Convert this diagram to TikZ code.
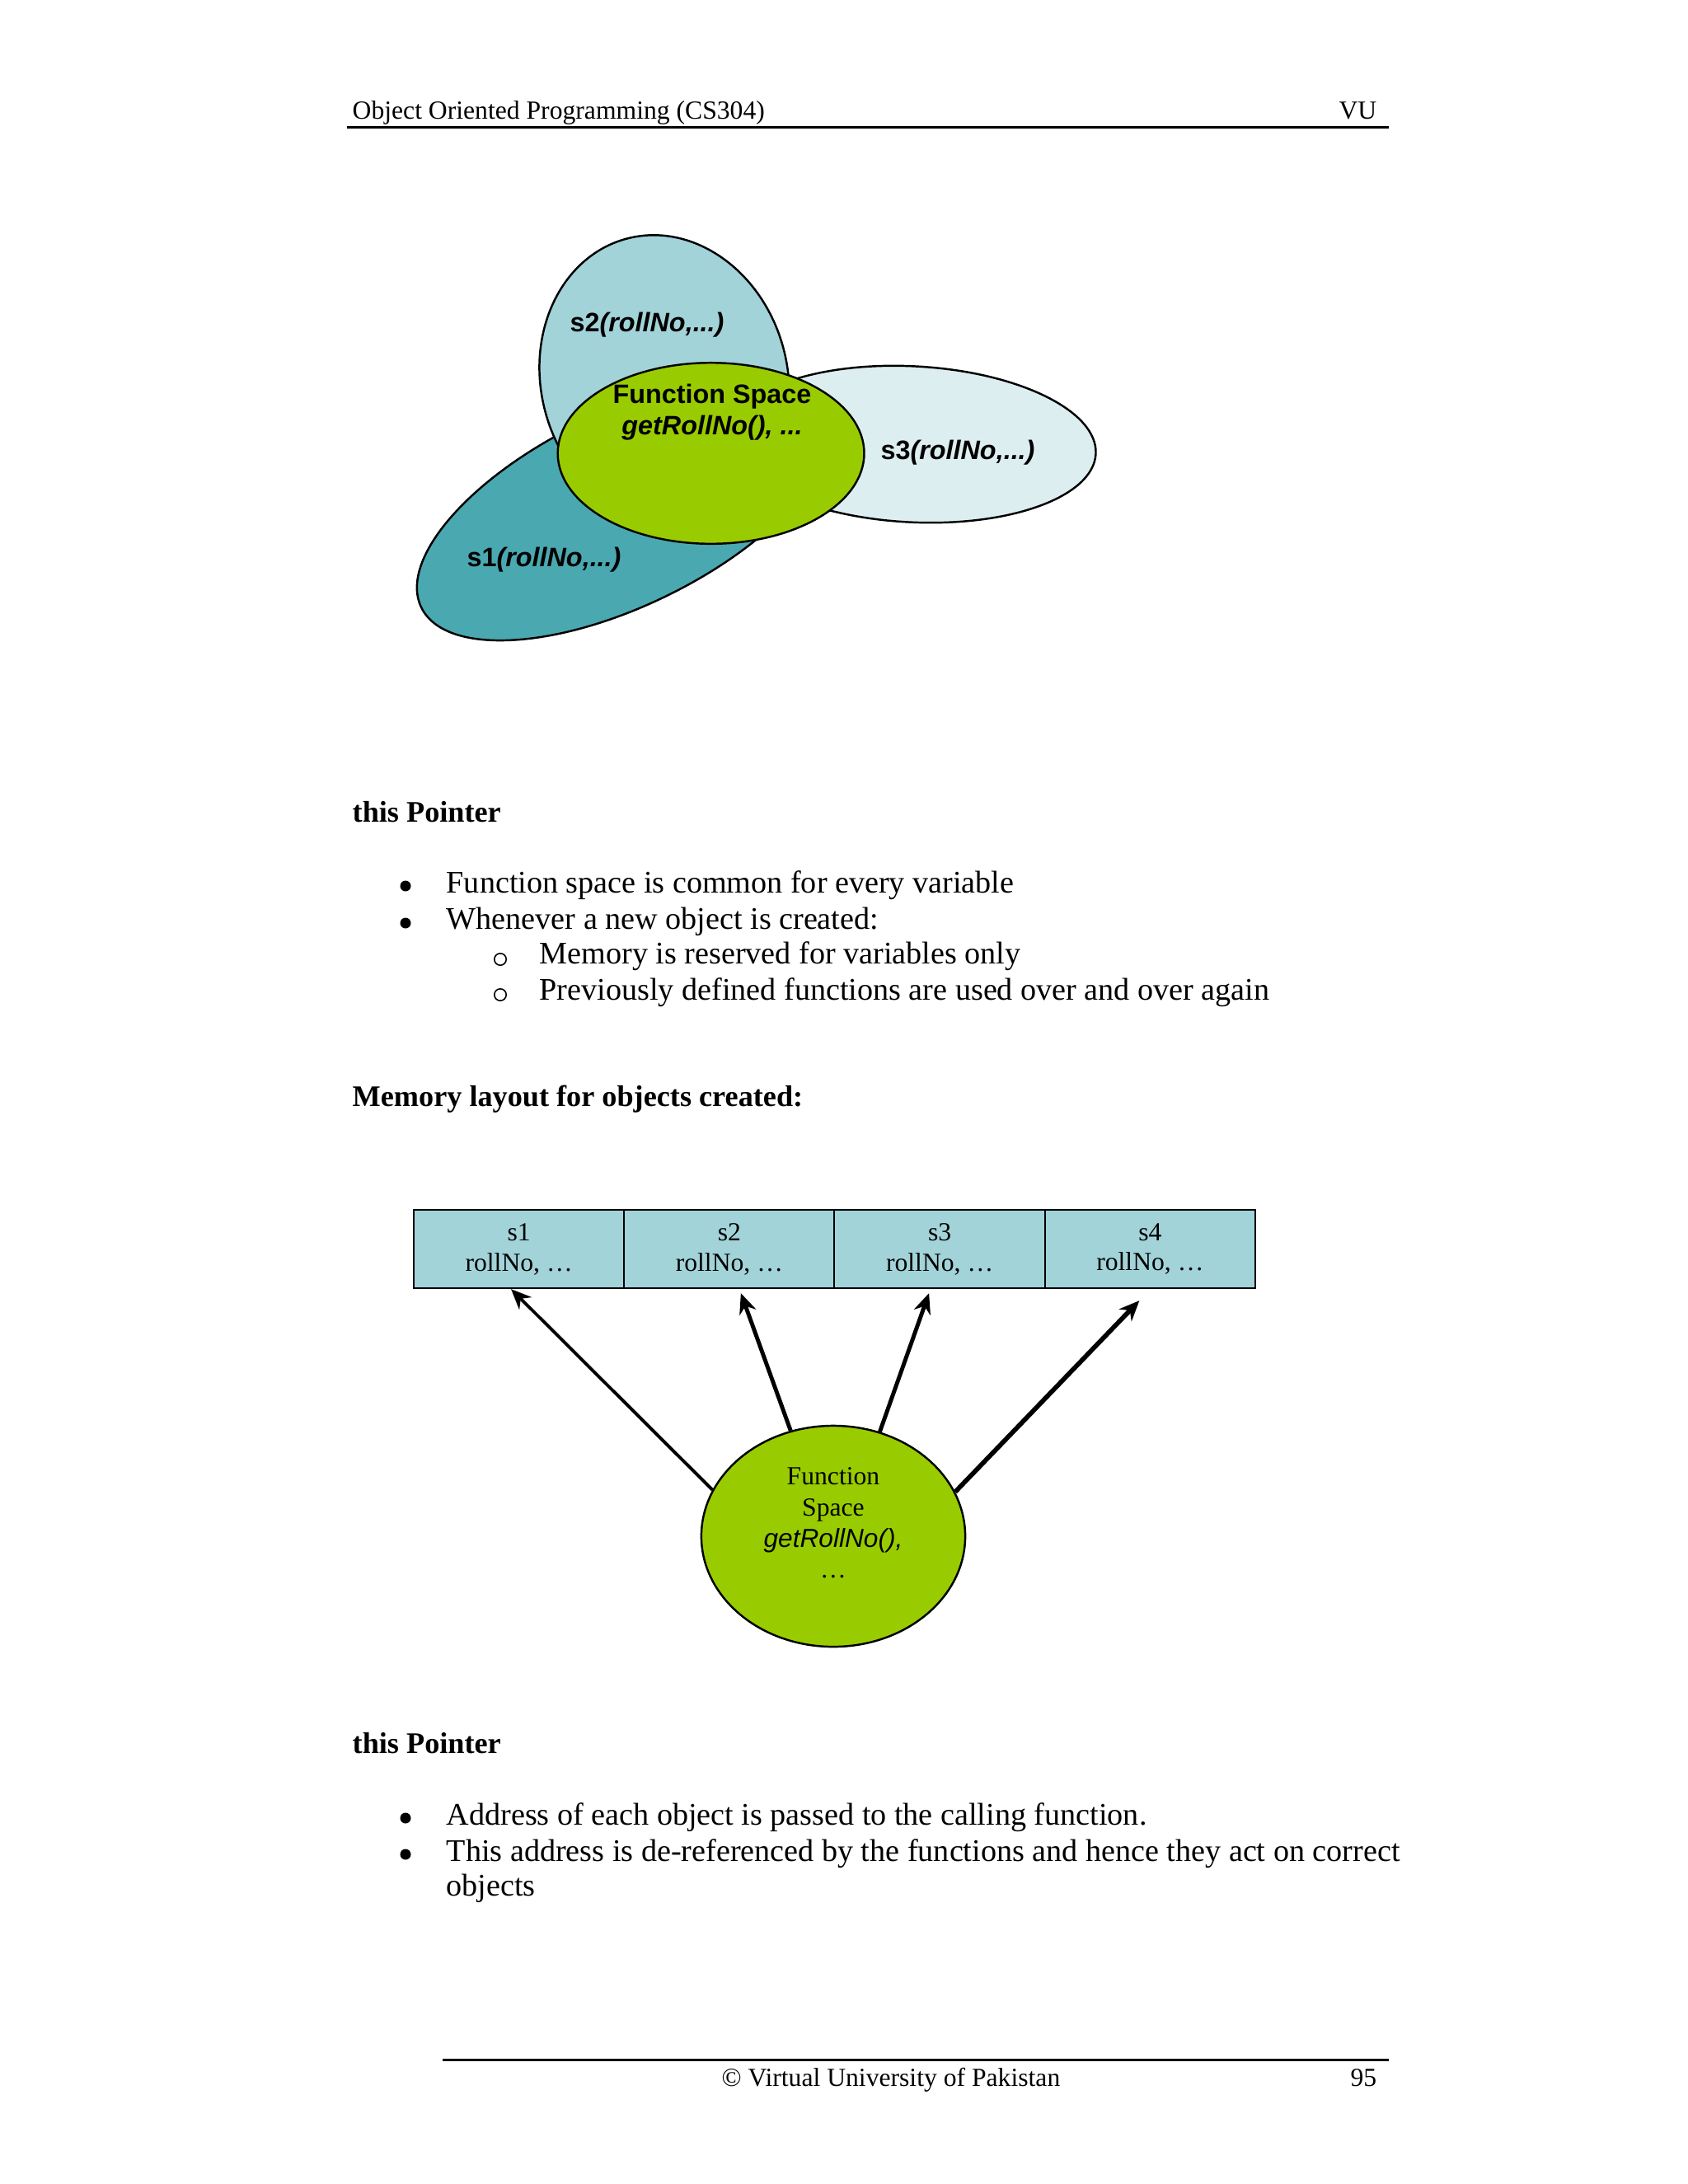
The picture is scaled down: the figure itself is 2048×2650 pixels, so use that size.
\documentclass[tikz,border=0pt]{standalone}
\usepackage{fontspec}
\setmainfont{Liberation Serif}
\setsansfont{Liberation Sans}
\setmonofont{Liberation Mono}
\usepackage{xcolor}
\usepackage{tikz}
\usetikzlibrary{positioning,shapes.geometric,arrows.meta}
\definecolor{objdark}{HTML}{4AA8B0}
\definecolor{objmid}{HTML}{A2D3D9}
\definecolor{objlight}{HTML}{DDEEF1}
\definecolor{fsgreen}{HTML}{99CC00}

\begin{document}
\begin{tikzpicture}[x=0.01cm, y=-0.01cm,
  body/.style   ={font=\fontsize{10.85}{12}\selectfont, anchor=base west, inner sep=0pt},
  bodyhead/.style={font=\fontsize{10.3}{12}\selectfont\bfseries, anchor=base west, inner sep=0pt},
  pagetxt/.style={font=\fontsize{9}{11}\selectfont, inner sep=0pt},
  objlbl/.style ={font=\sffamily\bfseries\fontsize{9.2}{10.6}\selectfont, inner sep=0pt},
  objring/.style={draw=black, line width=0.7pt},
  cell/.style   ={draw=black, fill=objmid, line width=0.6pt, minimum width=2.5525cm,
                  minimum height=0.95cm, inner sep=0pt, align=center,
                  font=\fontsize{9}{10.5}\selectfont},
  fsnode/.style ={ellipse, draw=black, fill=fsgreen, line width=0.7pt,
                  minimum width=3.2cm, minimum height=2.68cm, inner sep=0pt},
  fslbl/.style  ={align=center, inner sep=0pt, font=\fontsize{9}{10.7}\selectfont},
  ptr/.style    ={-{Stealth[length=7pt,width=6pt]}, line width=1.4pt},
]
\useasboundingbox (0,0) rectangle (2048,2650);
\fill[white] (0,0) rectangle (2048,2650);

% page header
\node[pagetxt, anchor=base west] (hdTitle) at (427,144) {Object Oriented Programming (CS304)};
\node[pagetxt, anchor=base east] (hdVU) at (1671,144) {VU};
\draw[line width=0.85pt] (421,154) -- (1685,154);

% objects sharing one function space
\filldraw[objring, fill=objdark, rotate around={25.8:(756,618.6)}] (756,618.6) ellipse (272 and 117);
\filldraw[objring, fill=objmid, rotate around={15:(806,461)}] (806,461) ellipse (149.5 and 177.4);
\filldraw[objring, fill=objlight, rotate around={-3:(1106.8,539)}] (1106.8,539) ellipse (223 and 94.6);
\filldraw[objring, fill=fsgreen] (862.6,550) ellipse (185.9 and 109.8);
\node[objlbl] (lblS2) at (785,394) {s2\textit{(rollNo,...)}};
\node[objlbl] (lblS3) at (1162,549) {s3\textit{(rollNo,...)}};
\node[objlbl] (lblS1) at (660,679) {s1\textit{(rollNo,...)}};
\node[objlbl, align=center] (lblFs) at (864,500) {Function Space\\\textit{getRollNo(), ...}};

% list marks
\foreach \y in {1075,1120,2206,2250}
  \fill (492,\y) circle (0.065cm);
\foreach \y in {1164,1207}
  \draw[line width=0.45pt] (607,\y) circle (0.072cm);

% text: first block
\node[bodyhead] (headOne) at (427,997) {this Pointer};
\node[body] (itemA) at (541,1083) {Function space is common for every variable};
\node[body] (itemB) at (541,1127) {Whenever a new object is created:};
\node[body] (subA) at (654,1169) {Memory is reserved for variables only};
\node[body] (subB) at (654,1213) {Previously defined functions are used over and over again};
\node[bodyhead] (headTwo) at (427,1342) {Memory layout for objects created:};

% memory layout
\foreach \i in {1,...,4}
  \node[cell] (c\i) at ({502+255.25*(\i-0.5)},1515.5) {s\i\\rollNo, \dots};
\node[fsnode] (fs) at (1011,1864) {};
\node[fslbl] (fsText) at ([yshift=0.16cm]fs.center) {Function\\Space\\\textsf{\textit{getRollNo(),}}\\\dots};
\draw[ptr, line width=1.1pt] (fs.159) -- ([xshift=-0.096cm]c1.south);
\draw[ptr] (fs.112) -- ([xshift=0.14cm,yshift=-0.05cm]c2.south);
\draw[ptr] (fs.66) -- ([xshift=-0.13cm,yshift=-0.05cm]c3.south);
\draw[ptr, line width=1.6pt] (fs.20) -- ([xshift=-0.13cm,yshift=-0.14cm]c4.south);

% text: second block
\node[bodyhead] (headThree) at (427,2127) {this Pointer};
\node[body] (itemC) at (541,2214) {Address of each object is passed to the calling function.};
\node[body] (itemD) at (541,2258) {This address is de-referenced by the functions and hence they act on correct};
\node[body] (itemDb) at (541,2300) {objects};

% page footer
\draw[line width=0.85pt] (537,2499) -- (1685,2499);
\node[pagetxt, anchor=base] (ftText) at (1081,2531) {© Virtual University of Pakistan};
\node[pagetxt, anchor=base east] (ftPage) at (1671,2531) {95};
\end{tikzpicture}
\end{document}
